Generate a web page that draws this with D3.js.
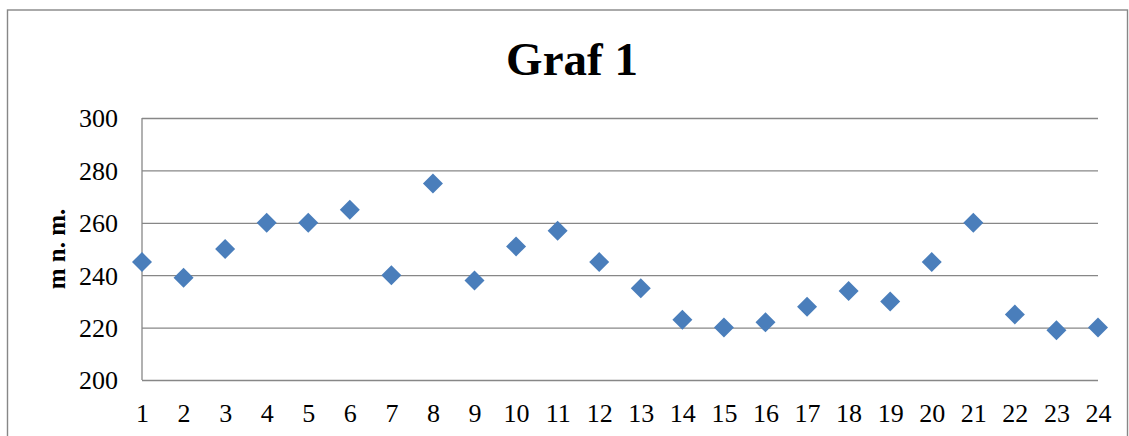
<!DOCTYPE html>
<html>
<head>
<meta charset="utf-8">
<script src="https://cdn.jsdelivr.net/npm/d3@7"></script>
<style>
  html, body { margin: 0; padding: 0; background: #fff; }
  svg { display: block; }
</style>
</head>
<body>
<svg id="chart" width="1129" height="436"></svg>
<script>
const categories = ["1","2","3","4","5","6","7","8","9","10","11","12","13","14","15","16","17","18","19","20","21","22","23","24"];
const values = [245, 239, 250, 260, 260, 265, 240, 275, 238, 251, 257, 245, 235, 223, 220, 222, 228, 234, 230, 245, 260, 225, 219, 220];
const yTicks = [200, 220, 240, 260, 280, 300];
const title = "Graf 1";
const yTitle = "m n. m.";

(function () {
const svg = d3.select("#chart");
const font = "'Liberation Serif', 'Times New Roman', serif";
const gridColor = "#878787";

// outer border
svg.append("rect")
  .attr("x", 7.5).attr("y", 10).attr("width", 1120).attr("height", 440)
  .attr("fill", "none").attr("stroke", gridColor).attr("stroke-width", 1.4);

const mLeft = 142, mRight = 1098, mTop = 118, mBottom = 380;
const x = d3.scalePoint().domain(categories).range([mLeft, mRight]);
const y = d3.scaleLinear().domain([200, 300]).range([mBottom, mTop]);

// gridlines + y axis
const yAxis = d3.axisLeft(y).tickValues(yTicks).tickSize(-(mRight - mLeft)).tickPadding(24).tickFormat(d3.format("d"));
const gy = svg.append("g").attr("transform", `translate(${mLeft},0)`).call(yAxis);
gy.select(".domain").remove();
gy.selectAll(".tick line").attr("stroke", gridColor).attr("stroke-width", 1.3);
gy.selectAll(".tick text")
  .attr("font-family", font).attr("font-size", 26).attr("fill", "#000")
  .attr("dy", "0.34em");

// left axis line
svg.append("line")
  .attr("x1", mLeft).attr("x2", mLeft).attr("y1", mTop).attr("y2", mBottom)
  .attr("stroke", gridColor).attr("stroke-width", 1.3);

// x axis labels
const xAxis = d3.axisBottom(x).tickSize(0).tickPadding(0);
const gx = svg.append("g").attr("transform", `translate(0,${mBottom})`).call(xAxis);
gx.select(".domain").remove();
gx.selectAll(".tick text")
  .attr("font-family", font).attr("font-size", 26).attr("fill", "#000")
  .attr("dy", null).attr("y", 42);

// markers
const sym = d3.symbol().type(d3.symbolSquare).size(200);
svg.append("g").selectAll("path")
  .data(values)
  .join("path")
  .attr("d", sym)
  .attr("transform", (d, i) => `translate(${x(categories[i])},${y(d)}) rotate(45)`)
  .attr("fill", "#4a7ebb");

// title
svg.append("text")
  .attr("x", 572).attr("y", 75)
  .attr("text-anchor", "middle")
  .attr("font-family", font).attr("font-weight", "bold").attr("font-size", 47)
  .text(title);

// y title
svg.append("text")
  .attr("transform", `translate(65,${(mTop + mBottom) / 2}) rotate(-90)`)
  .attr("text-anchor", "middle")
  .attr("font-family", font).attr("font-weight", "bold").attr("font-size", 25)
  .text(yTitle);
})();
</script>
</body>
</html>
